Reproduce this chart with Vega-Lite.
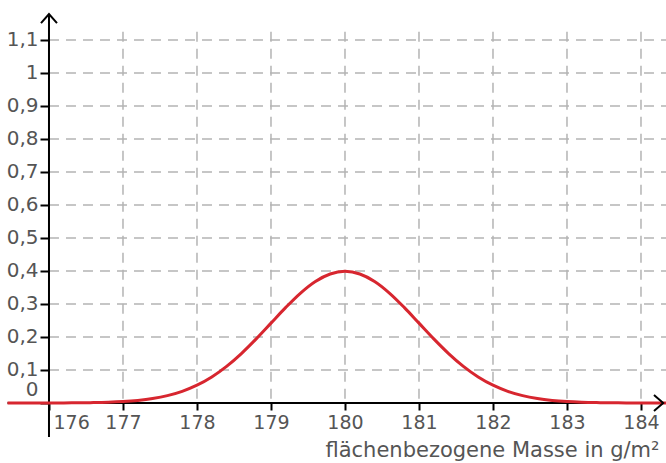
{
  "$schema": "https://vega.github.io/schema/vega-lite/v6.json",
  "width": 666,
  "height": 463,
  "autosize": {"type": "none"},
  "padding": 0,
  "background": "white",
  "config": {"view": {"stroke": null}},
  "datasets": {
    "curve": [
      {"x": 175.44, "y": 0.00001}, {"x": 175.6, "y": 0.00002}, {"x": 175.8, "y": 0.00006},
      {"x": 176.0, "y": 0.00013}, {"x": 176.2, "y": 0.00029}, {"x": 176.4, "y": 0.00061},
      {"x": 176.6, "y": 0.00123}, {"x": 176.8, "y": 0.00238}, {"x": 177.0, "y": 0.00443},
      {"x": 177.2, "y": 0.00792}, {"x": 177.4, "y": 0.01358}, {"x": 177.6, "y": 0.02239},
      {"x": 177.8, "y": 0.03547}, {"x": 178.0, "y": 0.05399}, {"x": 178.2, "y": 0.07895},
      {"x": 178.4, "y": 0.11092}, {"x": 178.6, "y": 0.14973}, {"x": 178.8, "y": 0.19419},
      {"x": 179.0, "y": 0.24197}, {"x": 179.2, "y": 0.28969}, {"x": 179.4, "y": 0.33322},
      {"x": 179.6, "y": 0.36827}, {"x": 179.8, "y": 0.39104}, {"x": 180.0, "y": 0.39894},
      {"x": 180.2, "y": 0.39104}, {"x": 180.4, "y": 0.36827}, {"x": 180.6, "y": 0.33322},
      {"x": 180.8, "y": 0.28969}, {"x": 181.0, "y": 0.24197}, {"x": 181.2, "y": 0.19419},
      {"x": 181.4, "y": 0.14973}, {"x": 181.6, "y": 0.11092}, {"x": 181.8, "y": 0.07895},
      {"x": 182.0, "y": 0.05399}, {"x": 182.2, "y": 0.03547}, {"x": 182.4, "y": 0.02239},
      {"x": 182.6, "y": 0.01358}, {"x": 182.8, "y": 0.00792}, {"x": 183.0, "y": 0.00443},
      {"x": 183.2, "y": 0.00238}, {"x": 183.4, "y": 0.00123}, {"x": 183.6, "y": 0.00061},
      {"x": 183.8, "y": 0.00029}, {"x": 184.0, "y": 0.00013}, {"x": 184.2, "y": 0.00006},
      {"x": 184.4, "y": 0.00002}
    ],
    "xgrid": [{"v": 177}, {"v": 178}, {"v": 179}, {"v": 180}, {"v": 181}, {"v": 182}, {"v": 183}, {"v": 184}],
    "ygrid": [{"v": 0.1}, {"v": 0.2}, {"v": 0.3}, {"v": 0.4}, {"v": 0.5}, {"v": 0.6}, {"v": 0.7}, {"v": 0.8}, {"v": 0.9}, {"v": 1.0}, {"v": 1.1}],
    "one": [{}]
  },
  "layer": [
    {
      "data": {"name": "xgrid"},
      "mark": {"type": "rule", "color": "#b4b4b4", "strokeWidth": 1.5, "strokeDash": [10, 7]},
      "encoding": {
        "x": {
          "field": "v", "type": "quantitative",
          "scale": {"domain": [175.338, 184.338], "nice": false, "zero": false},
          "axis": {
            "values": [176, 177, 178, 179, 180, 181, 182, 183, 184],
            "format": "d",
            "offset": -60,
            "domain": false,
            "grid": false,
            "ticks": true,
            "tickSize": 7,
            "tickWidth": 2,
            "tickColor": "black",
            "labelFont": "DejaVu Sans",
            "labelFontSize": 19,
            "labelColor": "#555555",
            "labelPadding": 3,
            "labelFlush": false,
            "labelOverlap": false,
            "labelAlign": {"condition": {"test": "datum.value == 176", "value": "left"}, "value": "center"},
            "labelOffset": {"condition": {"test": "datum.value == 176", "value": 4}, "value": 0},
            "title": "flächenbezogene Masse in g/m²",
            "titleFont": "DejaVu Sans",
            "titleFontSize": 21,
            "titleFontWeight": "normal",
            "titleColor": "#555555",
            "titleAlign": "right",
            "titleAnchor": "end",
            "titleBaseline": "alphabetic",
            "titleX": 659,
            "titleY": 53
          }
        },
        "y": {"datum": 1.125, "type": "quantitative"},
        "y2": {"datum": 0}
      }
    },
    {
      "data": {"name": "ygrid"},
      "mark": {"type": "rule", "color": "#b4b4b4", "strokeWidth": 1.5, "strokeDash": [10, 7]},
      "encoding": {
        "x": {"datum": 176, "type": "quantitative"},
        "x2": {"datum": 184.34},
        "y": {
          "field": "v", "type": "quantitative",
          "scale": {"domain": [-0.18182, 1.22121], "nice": false, "zero": false},
          "axis": {
            "values": [0, 0.1, 0.2, 0.3, 0.4, 0.5, 0.6, 0.7, 0.8, 0.9, 1, 1.1],
            "offset": -49,
            "domain": false,
            "grid": false,
            "ticks": true,
            "tickSize": 9,
            "tickWidth": 2,
            "tickColor": "black",
            "labelFont": "DejaVu Sans",
            "labelFontSize": 20,
            "labelColor": "#555555",
            "labelPadding": 2,
            "labelFlush": false,
            "labelOverlap": false,
            "labelExpr": "replace(format(datum.value, '.1~f'), '.', ',')",
            "labelOffset": {"condition": {"test": "datum.value == 0", "value": -13}, "value": 0},
            "title": null
          }
        }
      }
    },
    {
      "data": {"name": "one"},
      "mark": {"type": "rule", "color": "black", "strokeWidth": 2},
      "encoding": {
        "x": {"datum": 176, "type": "quantitative"},
        "y": {"datum": -0.103, "type": "quantitative"},
        "y2": {"datum": 1.175}
      }
    },
    {
      "data": {"name": "one"},
      "mark": {"type": "rule", "color": "black", "strokeWidth": 2},
      "encoding": {
        "x": {"datum": 175.44, "type": "quantitative"},
        "x2": {"datum": 184.29},
        "y": {"datum": 0, "type": "quantitative"}
      }
    },
    {
      "data": {"name": "curve"},
      "mark": {"type": "line", "color": "#d7262f", "strokeWidth": 3, "interpolate": "monotone"},
      "encoding": {
        "x": {"field": "x", "type": "quantitative"},
        "y": {"field": "y", "type": "quantitative"}
      }
    },
    {
      "data": {"name": "one"},
      "mark": {"type": "point", "shape": "M-1,1.15L0,0L1,1.15", "size": 256, "filled": false, "stroke": "black", "strokeWidth": 2, "opacity": 1},
      "encoding": {
        "x": {"datum": 176, "type": "quantitative"},
        "y": {"datum": 1.1788, "type": "quantitative"}
      }
    },
    {
      "data": {"name": "one"},
      "mark": {"type": "point", "shape": "M-1.15,-1L0,0L-1.15,1", "size": 256, "filled": false, "stroke": "black", "strokeWidth": 2, "opacity": 1},
      "encoding": {
        "x": {"datum": 184.3, "type": "quantitative"},
        "y": {"datum": 0, "type": "quantitative"}
      }
    }
  ]
}
